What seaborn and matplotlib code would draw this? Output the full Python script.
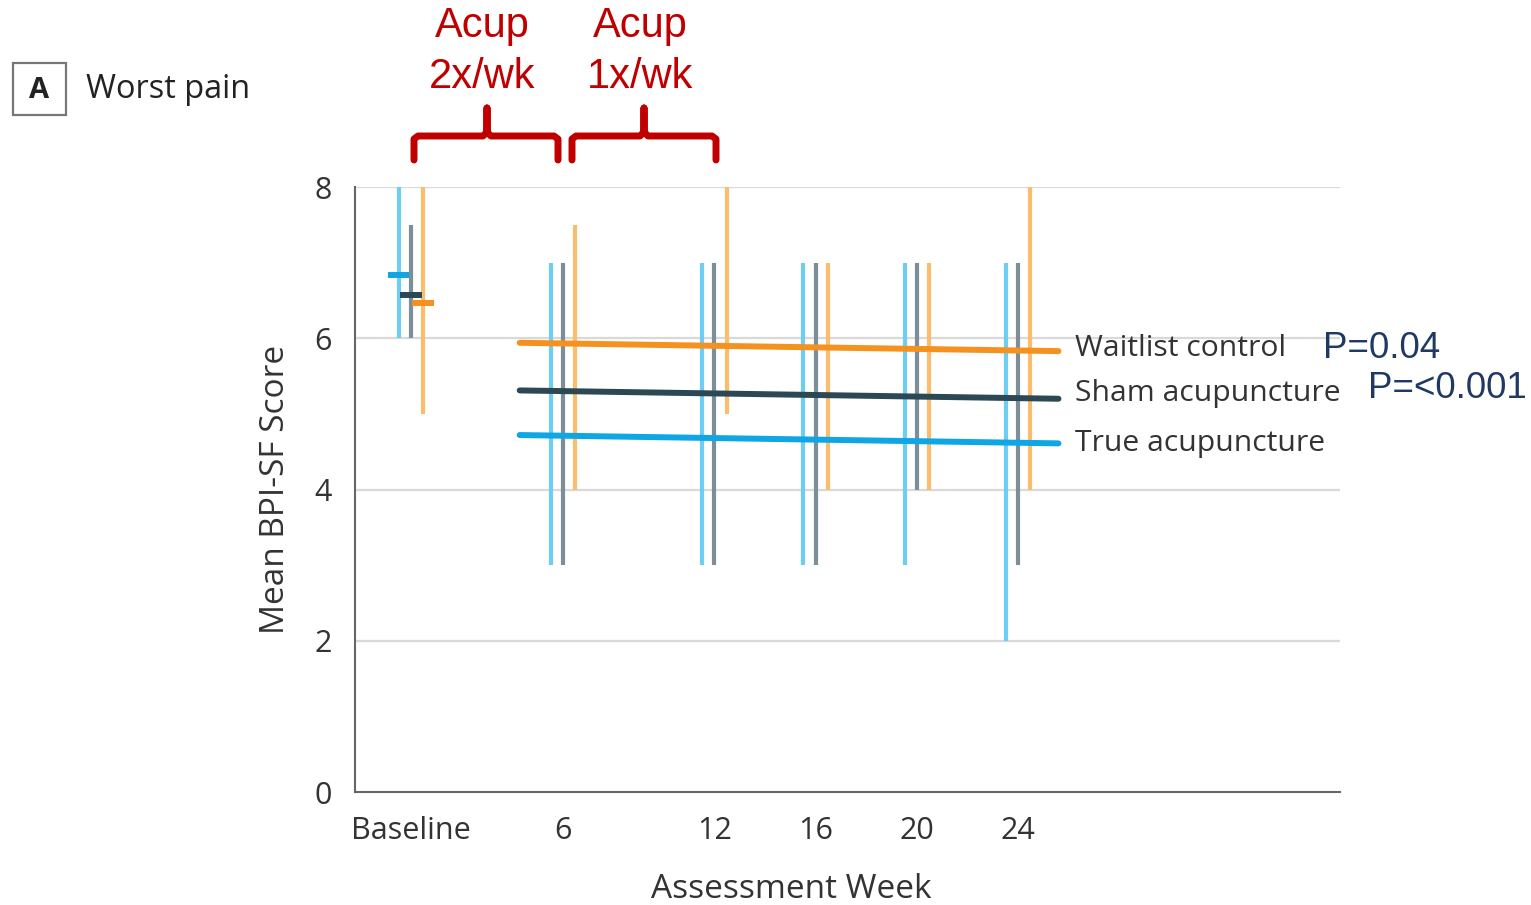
import numpy as np
import pandas as pd
import matplotlib
matplotlib.use("Agg")
import matplotlib.pyplot as plt
from matplotlib import font_manager
import seaborn as sns

# ---------------- data ----------------
groups = ["True acupuncture", "Sham acupuncture", "Waitlist control"]
weeks = [0, 6, 12, 16, 20, 24]
tick_labels = ["Baseline", "6", "12", "16", "20", "24"]

true_low = [6, 3, 3, 3, 3, 2]
true_high = [8, 7, 7, 7, 7, 7]
sham_low = [6, 3, 3, 3, 4, 3]
sham_high = [7.5, 7, 7, 7, 7, 7]
wait_low = [5, 4, 5, 4, 4, 4]
wait_high = [8, 7.5, 8, 7, 7, 8]

baseline_mean = [6.83, 6.57, 6.47]          # true, sham, waitlist
fit_weeks = [4.3, 25.6]
true_fit = [4.72, 4.61]
sham_fit = [5.31, 5.20]
wait_fit = [5.94, 5.83]

p_labels = ["P=0.04", "P=<0.001"]

# ---------------- style ----------------
sns.set_style("white")
names = {f.name for f in font_manager.fontManager.ttflist}
narrow = "Liberation Sans Narrow" if "Liberation Sans Narrow" in names else "Open Sans"
plt.rcParams["font.family"] = [narrow, "DejaVu Sans"]

bar_cols = {"True acupuncture": "#6dcdf2", "Sham acupuncture": "#7c8e98", "Waitlist control": "#fbbd6c"}
line_cols = {"True acupuncture": "#0fa6e6", "Sham acupuncture": "#2d4855", "Waitlist control": "#f5911f"}
offsets = {"True acupuncture": -0.48, "Sham acupuncture": 0.0, "Waitlist control": 0.48}
txt = "#333333"

W, H = 1531, 905
fig = plt.figure(figsize=(W / 100, H / 100), dpi=100)
ax = fig.add_axes([355 / W, 1 - 792 / H, (1340 - 355) / W, (792 - 187) / H])

ax.set_xlim(-2.21, 36.73)
ax.set_ylim(0, 8)

for y in [2, 4, 6, 8]:
    ax.axhline(y, color="#d9d9d9", lw=1.6, zorder=0)

lows = {"True acupuncture": true_low, "Sham acupuncture": sham_low, "Waitlist control": wait_low}
highs = {"True acupuncture": true_high, "Sham acupuncture": sham_high, "Waitlist control": wait_high}
for g in groups:
    xs = np.array(weeks) + offsets[g]
    ax.vlines(xs, lows[g], highs[g], color=bar_cols[g], lw=3.0, zorder=2, clip_on=False)

for g, m in zip(groups, baseline_mean):
    x0 = offsets[g]
    ax.hlines(m, x0 - 0.42, x0 + 0.42, color=line_cols[g], lw=4.3, zorder=4)

fit = pd.DataFrame({
    "week": fit_weeks * 3,
    "score": true_fit + sham_fit + wait_fit,
    "group": [groups[0]] * 2 + [groups[1]] * 2 + [groups[2]] * 2,
})
sns.lineplot(data=fit, x="week", y="score", hue="group", palette=line_cols,
             lw=4.3, ax=ax, legend=False, zorder=3)

# axes styling
for s in ["top", "right"]:
    ax.spines[s].set_visible(False)
for s in ["left", "bottom"]:
    ax.spines[s].set_color("#666666")
    ax.spines[s].set_linewidth(1.5)
ax.set_xticks(weeks)
ax.set_xticklabels(tick_labels)
ax.set_yticks([0, 2, 4, 6, 8])
ax.tick_params(axis="both", colors="#666666", labelcolor=txt, labelsize=22,
               length=9, width=1.5, direction="out", pad=8)
ax.set_xlabel("Assessment Week", fontsize=24, color=txt, labelpad=20)
ax.xaxis.set_label_coords((791 - 355) / 985, -0.134)
ax.set_ylabel("Mean BPI-SF Score", fontsize=24, color=txt, labelpad=16)

# group labels
def ftext(x, y, s, **kw):
    fig.text(x / W, 1 - y / H, s, **kw)

ftext(1075, 349, "Waitlist control", fontsize=21.7, color=txt, va="center", ha="left")
ftext(1075, 393, "Sham acupuncture", fontsize=21.7, color=txt, va="center", ha="left")
ftext(1075, 443, "True acupuncture", fontsize=21.7, color=txt, va="center", ha="left")

navy = "#1f3864"
ftext(1323, 349, p_labels[0], fontsize=26.5, color=navy, va="center", ha="left",
      family=["Liberation Sans", "DejaVu Sans"])
ftext(1368, 389, p_labels[1], fontsize=26.5, color=navy, va="center", ha="left",
      family=["Liberation Sans", "DejaVu Sans"])

# panel title
fig.patches.append(plt.Rectangle((13 / W, 1 - 115 / H), 53 / W, 52 / H, transform=fig.transFigure,
                                 fill=False, edgecolor="#777777", lw=1.6))
ftext(39.5, 90, "A", fontsize=21, fontweight="bold", color="#222222", ha="center", va="center")
ftext(86, 90, "Worst pain", fontsize=23.4, color="#222222", ha="left", va="center")

# red annotations
red = "#c00000"
for cx, l1, l2 in [(482, "Acup", "2x/wk"), (640, "Acup", "1x/wk")]:
    ftext(cx, 26, l1, fontsize=30, color=red, ha="center", va="center",
          family=["Liberation Sans", "DejaVu Sans"])
    ftext(cx, 77, l2, fontsize=30, color=red, ha="center", va="center",
          family=["Liberation Sans", "DejaVu Sans"])

for x0, x1, xm in [(414, 558, 487), (572, 716, 644)]:
    ys = 136
    pts = [(x0, 160), (x0, ys + 3), (x0 + 4, ys), (xm - 4, ys), (xm, ys - 4), (xm, 108),
           (xm, ys - 4), (xm + 4, ys), (x1 - 4, ys), (x1, ys + 3), (x1, 160)]
    px = [p[0] / W for p in pts]
    py = [1 - p[1] / H for p in pts]
    fig.add_artist(plt.Line2D(px, py, transform=fig.transFigure, color=red, lw=5,
                              solid_capstyle="round", solid_joinstyle="round"))

fig.savefig("out.png", dpi=100)
